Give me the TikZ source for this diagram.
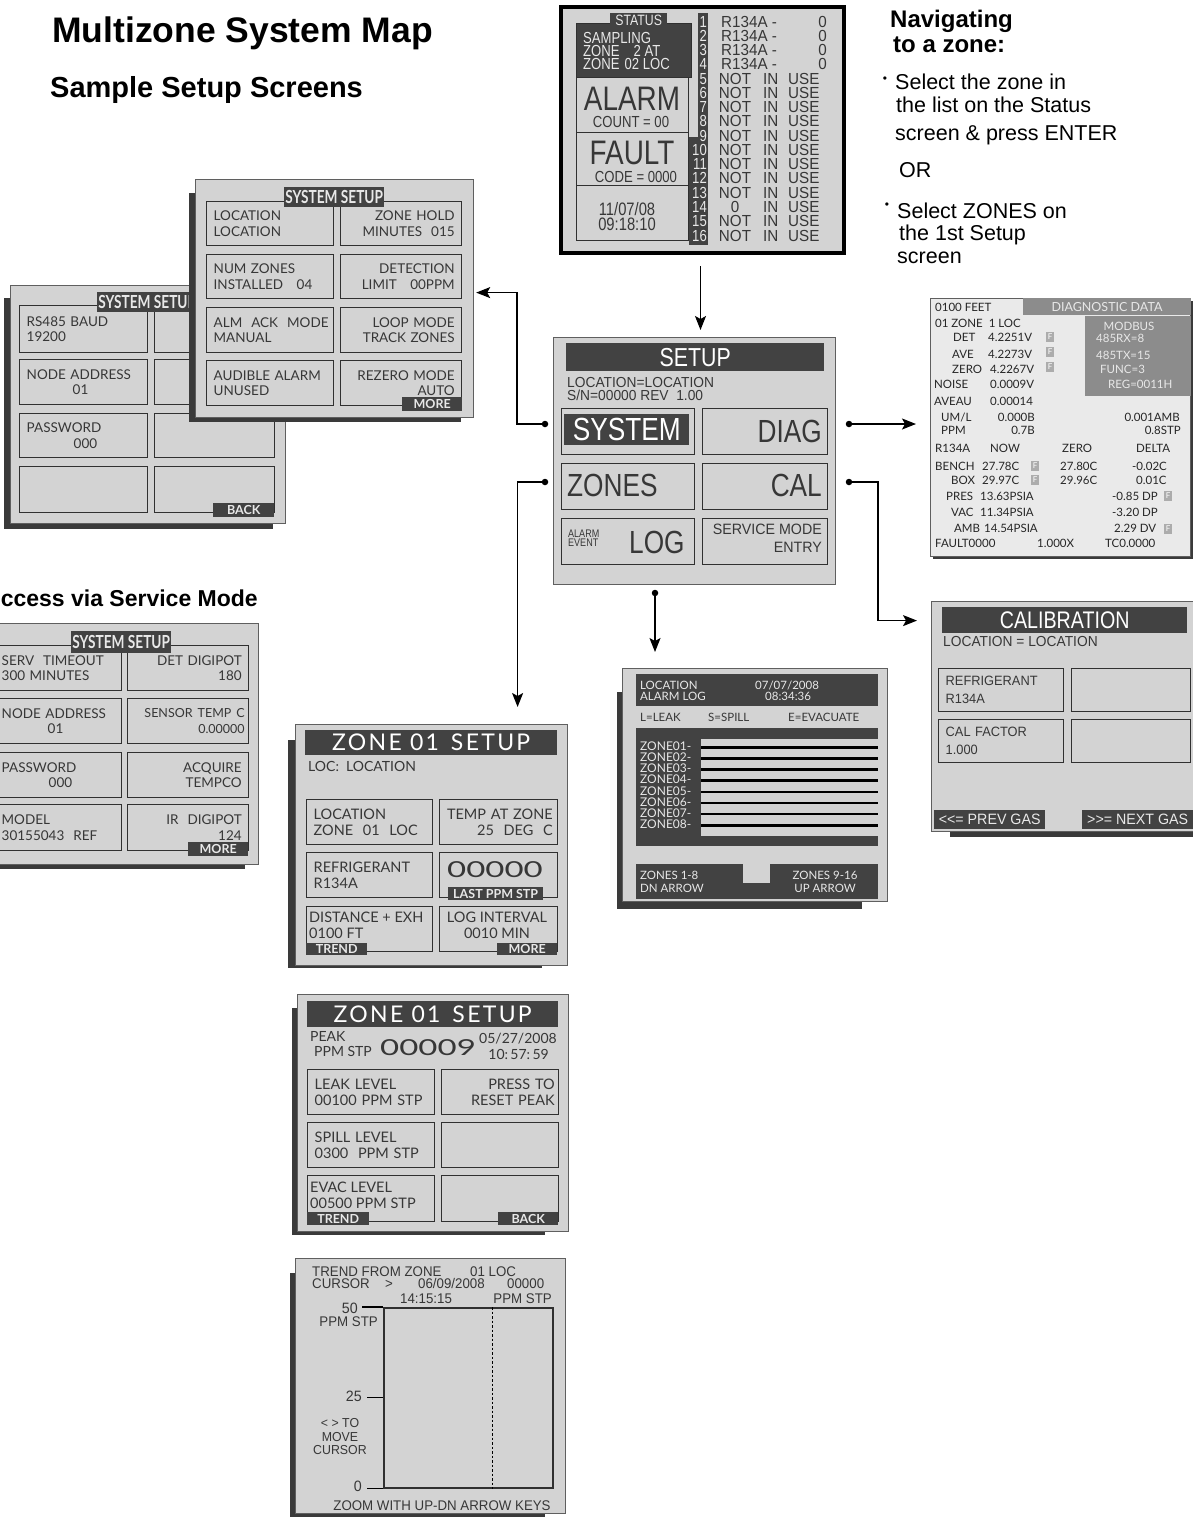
\documentclass[tikz,border=0pt]{standalone}
\usepackage{fontspec}
\setmainfont{Liberation Sans}
\newfontfamily\gill{Lato}
\newfontfamily\gillw[LetterSpace=10]{Lato}
\newfontfamily\gillx[FakeStretch=1.5]{Lato}
\newfontfamily\gillc[FakeStretch=0.76]{Lato}
\newfontfamily\din[FakeStretch=0.82]{Liberation Sans}
\newfontfamily\dinw[FakeStretch=0.95]{Liberation Sans}
\usetikzlibrary{arrows.meta,positioning}
\newcommand{\fsz}[2]{\fontsize{#1}{#2}\selectfont}

\definecolor{scrfill}{RGB}{211,211,211}
\definecolor{diagfill}{RGB}{234,234,234}
\definecolor{bardark}{RGB}{66,66,66}
\definecolor{shadowc}{RGB}{58,58,58}
\definecolor{scrline}{RGB}{95,95,95}
\definecolor{btnline}{RGB}{48,48,48}
\definecolor{txt}{RGB}{55,55,55}
\definecolor{modgray}{RGB}{140,140,140}
\definecolor{lighttxt}{RGB}{232,232,232}

\begin{document}
\begin{tikzpicture}[
  x=1pt, y=-1pt, >={Stealth[length=14pt,width=11pt,inset=3pt]},
  scr/.style 2 args={draw=scrline, line width=1.2pt, fill=scrfill, anchor=north west, inner sep=0pt, minimum width=#1, minimum height=#2},
  shd/.style 2 args={fill=shadowc, anchor=north west, inner sep=0pt, minimum width=#1, minimum height=#2},
  bx/.style 2 args={draw=btnline, line width=1.4pt, anchor=north west, inner xsep=7pt, inner ysep=0pt, text width=#1, minimum height=#2, align=left, text=txt, font=\gill\fsz{13.5}{15.5}},
  sbox/.style 2 args={draw=btnline, line width=1.4pt, anchor=north west, inner sep=0pt, minimum width=#1, minimum height=#2},
  dbar/.style 2 args={fill=bardark, text=white, anchor=north west, inner sep=0pt, minimum width=#1, minimum height=#2},
  dtab/.style 2 args={dbar={#1}{#2}, text=lighttxt, font=\gill\bfseries\fsz{12.5}{12.5}},
  ttab/.style={dbar={100pt}{20pt}, text=lighttxt, font=\gillc\bfseries\fsz{18}{18}},
  jdot/.style={circle, fill=black, inner sep=0pt, minimum size=6.5pt},
  conn/.style={->, line width=1.3pt},
  ttl/.style={inner sep=0pt, anchor=base west},
  nav/.style={inner sep=0pt, anchor=base west, font=\fsz{21.5}{21.5}},
  bul/.style={inner sep=0pt, font=\fsz{12}{12}},
  stl/.style={inner sep=0pt, anchor=base west, text=lighttxt, font=\din\fsz{16}{16}},
  stt/.style={inner sep=0pt, text=txt, font=\dinw\fsz{16}{16}},
  snum/.style={inner sep=0pt, anchor=base east, text=lighttxt, font=\din\fsz{16}{16}},
  stx/.style={inner sep=0pt, anchor=base west, text=txt, font=\dinw\fsz{14.5}{14.5}},
  bigt/.style={inner sep=0pt, text=txt, font=\din\fsz{32}{32}},
  smt/.style={inner sep=0pt, anchor=base west, text=txt, font=\din\fsz{11}{11}},
  dtx/.style={inner sep=0pt, text=black!85, font=\gill\fsz{11.5}{11.5}},
  fbox/.style={fill=gray!65, text=white, inner sep=0pt, minimum width=8pt, minimum height=10pt, font=\gill\fsz{8}{8}},
  ltx/.style={inner sep=0pt, anchor=base west, text=txt, font=\gill\fsz{11.5}{11.5}},
  ztx/.style={inner sep=0pt, anchor=base west, text=txt, font=\gill\fsz{14}{14}},
  ttx/.style={inner sep=0pt, anchor=base west, text=txt, font=\dinw\fsz{14}{14}},
]
\useasboundingbox (0,0) rectangle (1193,1518);

% ---------------- headings ----------------
\node[ttl, font=\bfseries\fsz{35.5}{35.5}] (title) at (52,42) {Multizone System Map};
\node[ttl, font=\bfseries\fsz{29}{29}] (subtitle) at (50,97) {Sample Setup Screens};
\node[ttl, anchor=base east, font=\bfseries\fsz{23}{23}] (servtitle) at (258,606) {Access via Service Mode};

% ---------------- navigating ----------------
\node[ttl, font=\bfseries\fsz{24}{24}] (nav1) at (890,27) {Navigating};
\node[ttl, font=\bfseries\fsz{24}{24}] (nav2) at (893,52) {to a zone:};
\node[bul] (b1) at (885,80) {\textbullet};
\node[nav] (n1) at (895,89) {Select the zone in};
\node[nav] (n2) at (896,112) {the list on the Status};
\node[nav] (n3) at (895,140) {screen \& press ENTER};
\node[nav] (n4) at (899,177) {OR};
\node[bul] (b2) at (887,206) {\textbullet};
\node[nav] (n5) at (897,218) {Select ZONES on};
\node[nav] (n6) at (899,240) {the 1st Setup};
\node[nav] (n7) at (897,263) {screen};

% ---------------- status ----------------
\node[scr={283pt}{246pt}, draw=black, line width=4pt] (status) at (559,5) {};
\node[dbar={115pt}{54pt}, draw=btnline, line width=1.4pt] (samp) at (576,23) {};
\node[sbox={112pt}{55pt}] (alarm) at (576,77) {};
\node[sbox={112pt}{53pt}] (fault) at (576,132) {};
\node[sbox={112pt}{55pt}] (clock) at (576,185) {};
\node[dbar={57pt}{14pt}, text=lighttxt, font=\din\fsz{15}{15}] (sttab) at (610,13) {STATUS};
\node[dbar={10pt}{232pt}] (nbar) at (698,13) {};
\node[dbar={19pt}{108pt}] (nbar2) at (689,137) {};
\node[stl] (samp1) at (583,43) {SAMPLING};
\node[stl] (samp2) at (583,56) {ZONE\hspace{14pt}2 AT};
\node[stl] (samp3) at (583,69) {ZONE\hspace{5pt}02 LOC};
\node[bigt, anchor=base, font=\din\fsz{34}{34}] (alarmt) at (632,110) {ALARM};
\node[stt, anchor=base, font=\din\fsz{16}{16}] (countt) at (631,127) {COUNT = 00};
\node[bigt, anchor=base, font=\din\fsz{34}{34}] (faultt) at (632,164) {FAULT};
\node[stt, anchor=base, font=\din\fsz{16}{16}] (codet) at (636,182) {CODE = 0000};
\node[stt, anchor=base, font=\din\fsz{18}{18}] (datet) at (627,215) {11/07/08};
\node[stt, anchor=base, font=\din\fsz{18}{18}] (timet) at (627,230) {09:18:10};
\foreach \i in {1,...,16}
  \node[snum] (sn\i) at (707,{27+14.27*(\i-1)}) {\i};
\foreach \i in {1,...,4} {
  \node[stt, anchor=base west] (ra\i) at (721,{27+14.27*(\i-1)}) {R134A -};
  \node[stt, anchor=base east] (rb\i) at (827,{27+14.27*(\i-1)}) {0};
}
\foreach \i/\w in {5/NOT,6/NOT,7/NOT,8/NOT,9/NOT,10/NOT,11/NOT,12/NOT,13/NOT,14/0,15/NOT,16/NOT} {
  \node[stt, anchor=base] (ra\i) at (735,{27+14.27*(\i-1)}) {\w};
  \node[stt, anchor=base west] (rb\i) at (763,{27+14.27*(\i-1)}) {IN};
  \node[stt, anchor=base west] (rc\i) at (788,{27+14.27*(\i-1)}) {USE};
}

% ---------------- setup ----------------
\node[scr={282pt}{247pt}] (setup) at (553,337) {};
\node[dbar={258pt}{28pt}, font=\din\fsz{26}{26}] (sethead) at (566,343) {SETUP};
\node[stx] (setloc) at (567,387) {LOCATION=LOCATION};
\node[stx] (setsn) at (567,400) {S/N=00000 REV\ \ 1.00};
\node[sbox={133pt}{46pt}] (bsys) at (561,408) {};
\node[dbar={125pt}{31pt}, font=\din\fsz{32}{32}] (bsysin) at (564,414) {SYSTEM};
\node[sbox={125pt}{46pt}] (bdiag) at (702,408) {};
\node[bigt, anchor=base east] (tdiag) at (822,442) {DIAG};
\node[sbox={133pt}{46pt}] (bzon) at (561,463) {};
\node[bigt, anchor=base west] (tzon) at (567,496) {ZONES};
\node[sbox={125pt}{46pt}] (bcal) at (702,463) {};
\node[bigt, anchor=base east] (tcal) at (822,496) {CAL};
\node[sbox={133pt}{46pt}] (blog) at (561,518) {};
\node[smt] (tal) at (568,537) {ALARM};
\node[smt] (tev) at (568,546) {EVENT};
\node[bigt, anchor=base west] (tlog) at (629,553) {LOG};
\node[sbox={125pt}{46pt}] (bserv) at (702,518) {};
\node[stx, anchor=base east, font=\dinw\fsz{15}{15}] (tserv1) at (822,534) {SERVICE MODE};
\node[stx, anchor=base east, font=\dinw\fsz{15}{15}] (tserv2) at (822,552) {ENTRY};
\node[jdot] (dsys) at (545,424) {};
\node[jdot] (dzon) at (545,482) {};
\node[jdot] (ddiag) at (849,424) {};
\node[jdot] (dcal) at (849,482) {};
\node[jdot] (dlog) at (655,593) {};

% ---------------- diagnostic ----------------
\node[shd={260pt}{258pt}] (diagshd) at (933,301) {};
\node[scr={260pt}{258pt}, fill=diagfill] (diag) at (930,298) {};
\node[dbar={168pt}{17pt}, fill=modgray, text=lighttxt, font=\gill\fsz{12.5}{12.5}, anchor=north east] (dhead) at (diag.north east) {DIAGNOSTIC DATA};
\node[dbar={106pt}{80pt}, fill=modgray, anchor=north east] (dmod) at (dhead.south east) {};
\foreach \x/\y/\t [count=\i] in {935/311/0100 FEET, 935/327/01 ZONE\ \ 1 LOC,
    953/341/DET, 988/341/4.2251V, 952/358/AVE, 988/358/4.2273V, 952/373/ZERO, 990/373/4.2267V,
    934/388/NOISE, 990/388/0.0009V, 934/405/AVEAU, 990/405/0.00014, 941/421/{UM/L}, 941/434/PPM,
    935/452/R134A, 990/452/NOW, 1062/452/ZERO, 1136/452/DELTA,
    935/470/BENCH, 982/470/27.78C, 1060/470/27.80C, 1132/470/-0.02C,
    951/484/BOX, 982/484/29.97C, 1060/484/29.96C, 1136/484/0.01C,
    946/500/PRES, 980/500/13.63PSIA, 1112/500/-0.85 DP,
    951/516/VAC, 980/516/11.34PSIA, 1112/516/-3.20 DP,
    954/532/AMB, 984/532/14.54PSIA, 1114/532/2.29 DV,
    935/547/FAULT0000, 1037/547/1.000X, 1105/547/TC0.0000}
  \node[dtx, anchor=base west] (dl\i) at (\x,\y) {\t};
\foreach \x/\y/\t [count=\i] in {1035/421/0.000B, 1180/421/0.001AMB, 1035/434/0.7B, 1181/434/0.8STP}
  \node[dtx, anchor=base east] (dr\i) at (\x,\y) {\t};
\node[dtx, anchor=base, text=lighttxt] (dmb) at (1129,330) {MODBUS};
\foreach \x/\y/\t [count=\i] in {1096/342/485RX=8, 1096/359/485TX=15, 1100/373/FUNC=3, 1108/388/REG=0011H}
  \node[dtx, anchor=base west, text=lighttxt] (dm\i) at (\x,\y) {\t};
\foreach \x/\y [count=\i] in {1050/337, 1050/352, 1050/367, 1035/466, 1035/480, 1168/496, 1168/529}
  \node[fbox] (f\i) at (\x,\y) {F};

% ---------------- calibration ----------------
\node[shd={250pt}{225pt}] (calshd) at (950,612) {};
\node[scr={266pt}{230pt}] (calib) at (931,601) {};
\node[dbar={245pt}{26pt}, font=\din\fsz{24}{24}] (calhead) at (942,607) {CALIBRATION};
\node[stx] (calloc) at (943,646) {LOCATION = LOCATION};
\node[bx={111pt}{43pt}, font=\dinw\fsz{13.5}{18}] (cref) at (938,668) {REFRIGERANT\\R134A};
\node[bx={105pt}{43pt}] (cemp1) at (1071,668) {};
\node[bx={111pt}{43pt}, font=\dinw\fsz{13.5}{18}] (cfac) at (938,719) {CAL FACTOR\\1.000};
\node[bx={105pt}{43pt}] (cemp2) at (1071,719) {};
\node[dbar={111pt}{19pt}, text=lighttxt, font=\dinw\fsz{15}{15}] (cprev) at (934,810) {<<= PREV GAS};
\node[dbar={111pt}{19pt}, text=lighttxt, font=\dinw\fsz{15}{15}] (cnext) at (1082,810) {>>= NEXT GAS};

% ---------------- alarm log ----------------
\node[shd={245pt}{217pt}] (alogshd) at (617,692) {};
\node[scr={265pt}{233pt}] (alog) at (622,668) {};
\node[dbar={242pt}{32pt}] (ahead) at (636,674) {};
\node[ltx, text=lighttxt] (ah1) at (640,689) {LOCATION};
\node[ltx, text=lighttxt] (ah2) at (640,700) {ALARM LOG};
\node[ltx, text=lighttxt] (ah3) at (755,689) {07/07/2008};
\node[ltx, text=lighttxt] (ah4) at (765,700) {08:34:36};
\node[ltx] (aleak) at (640,721) {L=LEAK};
\node[ltx] (aspill) at (708,721) {S=SPILL};
\node[ltx] (aevac) at (788,721) {E=EVACUATE};
\node[dbar={242pt}{118pt}] (apanel) at (636,728) {};
\node[dbar={177pt}{97pt}, fill=scrfill] (alines) at (701,739) {};
\foreach \i in {1,...,8} {
  \draw[line width=2.6pt] (701,{747.3+11.14*(\i-1)}) -- (878,{747.3+11.14*(\i-1)});
  \node[ltx, text=lighttxt, font=\gill\fsz{12}{12}] (az\i) at (640,{750.5+11.14*(\i-1)}) {ZONE0\i-};
}
\node[dbar={242pt}{35pt}] (abot) at (636,864) {};
\node[dbar={27pt}{19pt}, fill=scrfill] (anotch) at (743,864) {};
\node[ltx, text=lighttxt] (ab1) at (640,879) {ZONES 1-8};
\node[ltx, text=lighttxt] (ab2) at (640,892) {DN ARROW};
\node[ltx, anchor=base, text=lighttxt] (ab3) at (825,879) {ZONES 9-16};
\node[ltx, anchor=base, text=lighttxt] (ab4) at (825,892) {UP ARROW};

% ---------------- zone 01 setup ----------------
\node[shd={254pt}{228pt}] (z1shd) at (288,740) {};
\node[scr={272pt}{241pt}] (zone1) at (295,724) {};
\node[dbar={252pt}{25pt}, font=\gillw\fsz{23}{23}] (z1head) at (305,730) {ZONE 01\hspace{12pt}SETUP};
\node[ztx] (z1loc) at (308,771) {LOC:\ \ LOCATION};
\node[bx={112pt}{45pt}, font=\gill\fsz{14.5}{15.5}] (z1a) at (306,799) {LOCATION\\ZONE\ \ 01\ \ LOC};
\node[bx={104pt}{45pt}, align=right, font=\gill\fsz{14.5}{15.5}, inner xsep=5pt, text width=108pt] (z1b) at (439,799) {TEMP AT ZONE\\25\ \ DEG\ \ C};
\node[bx={112pt}{45pt}, font=\gill\fsz{14.5}{15.5}] (z1c) at (306,852) {REFRIGERANT\\R134A};
\node[bx={104pt}{45pt}] (z1d) at (439,852) {};
\node[ztx, anchor=base, font=\gillx\fsz{22}{22}] (z1ppm) at (495,877) {00000};
\node[dtab={95pt}{13pt}] (z1last) at (448,887) {LAST PPM STP};
\node[bx={112pt}{45pt}] (z1e) at (306,906) {};
\node[ztx, font=\gill\fsz{14.5}{14.5}] (z1e1) at (309,922) {DISTANCE + EXH};
\node[ztx, font=\gill\fsz{14.5}{14.5}] (z1e2) at (309,938) {0100 FT};
\node[dtab={61pt}{12pt}] (z1trend) at (306,943) {TREND};
\node[bx={104pt}{45pt}] (z1f) at (439,906) {};
\node[ztx, anchor=base, font=\gill\fsz{14.5}{14.5}] (z1f1) at (497,922) {LOG INTERVAL};
\node[ztx, anchor=base, font=\gill\fsz{14.5}{14.5}] (z1f2) at (497,938) {0010 MIN};
\node[dtab={60pt}{12pt}] (z1more) at (497,943) {MORE};

% ---------------- zone 01 setup, page 2 ----------------
\node[shd={253pt}{227pt}] (z2shd) at (292,1008) {};
\node[scr={271pt}{237pt}] (zone2) at (297,994) {};
\node[dbar={251pt}{26pt}, font=\gillw\fsz{23}{23}] (z2head) at (307,1001) {ZONE 01\hspace{12pt}SETUP};
\node[ztx] (z2pk) at (310,1041) {PEAK};
\node[ztx] (z2pp) at (314,1056) {PPM STP};
\node[ztx, font=\gillx\fsz{22}{22}] (z2val) at (380,1055) {00009};
\node[ztx, anchor=base east] (z2date) at (557,1043) {05/27/2008};
\node[ztx, anchor=base east] (z2time) at (549,1059) {10:\,57:\,59};
\node[bx={113pt}{45pt}, font=\gill\fsz{14.5}{15.5}] (z2a) at (307,1069) {LEAK LEVEL\\00100 PPM STP};
\node[bx={103pt}{45pt}, align=right, font=\gill\fsz{14.5}{15.5}, inner xsep=4pt, text width=109pt] (z2b) at (441,1069) {PRESS TO\\RESET PEAK};
\node[bx={113pt}{45pt}, font=\gill\fsz{14.5}{15.5}] (z2c) at (307,1122) {SPILL LEVEL\\0300\ \ PPM STP};
\node[bx={103pt}{45pt}] (z2d) at (441,1122) {};
\node[bx={113pt}{46pt}] (z2e) at (307,1175) {};
\node[ztx, font=\gill\fsz{14.5}{14.5}] (z2e1) at (310,1192) {EVAC LEVEL};
\node[ztx, font=\gill\fsz{14.5}{14.5}] (z2e2) at (310,1208) {00500 PPM STP};
\node[dtab={62pt}{13pt}] (z2trend) at (307,1212) {TREND};
\node[bx={103pt}{46pt}] (z2f) at (441,1175) {};
\node[dtab={60pt}{13pt}] (z2back) at (498,1212) {BACK};

% ---------------- trend ----------------
\node[shd={255pt}{244pt}] (trshd) at (290,1273) {};
\node[scr={270pt}{255pt}] (trend) at (295,1258) {};
\node[ttx] (tr1) at (312,1276) {TREND FROM ZONE};
\node[ttx] (tr2) at (470,1276) {01 LOC};
\node[ttx] (tr3) at (312,1288) {CURSOR};
\node[ttx] (tr4) at (385,1288) {>};
\node[ttx] (tr5) at (418,1288) {06/09/2008};
\node[ttx] (tr6) at (507,1288) {00000};
\node[ttx] (tr7) at (400,1303) {14:15:15};
\node[ttx, anchor=base east] (tr8) at (552,1303) {PPM STP};
\node[sbox={169pt}{180pt}, line width=1.5pt] (tgraph) at (383,1307) {};
\draw[line width=1.3pt] ([xshift=-21pt]tgraph.north west) -- (tgraph.north west);
\draw[line width=1.3pt] ([xshift=-16pt]tgraph.west) -- (tgraph.west);
\draw[line width=1.3pt] ([xshift=-16pt]tgraph.south west) -- (tgraph.south west);
\draw[line width=1pt, dash pattern=on 2.5pt off 2pt] ([xshift=24.5pt]tgraph.north) -- ([xshift=24.5pt]tgraph.south);
\node[ttx, anchor=base east, font=\dinw\fsz{15}{15}] (t50) at (358,1313) {50};
\node[ttx, anchor=base east] (tppm) at (378,1326) {PPM STP};
\node[ttx, anchor=base east, font=\dinw\fsz{15}{15}] (t25) at (362,1401) {25};
\node[ttx, anchor=base east, font=\dinw\fsz{15}{15}] (t0) at (362,1491) {0};
\node[ttx, anchor=base, font=\dinw\fsz{13}{13}] (tm1) at (340,1427) {< > TO};
\node[ttx, anchor=base, font=\dinw\fsz{13}{13}] (tm2) at (340,1441) {MOVE};
\node[ttx, anchor=base, font=\dinw\fsz{13}{13}] (tm3) at (340,1454) {CURSOR};
\node[ttx, anchor=base] (tzoom) at (442,1510) {ZOOM WITH UP-DN ARROW KEYS};

% ---------------- system setup (service mode) ----------------
\node[shd={255pt}{233pt}] (servshd) at (-10,636) {};
\node[scr={266pt}{241pt}] (serv) at (-8,623) {};
\node[bx={113pt}{45pt}] (sv1) at (-6,645) {SERV\ \ TIMEOUT\\300 MINUTES};
\node[bx={107pt}{45pt}, align=right] (sv2) at (127,645) {DET DIGIPOT\\180};
\node[bx={113pt}{45pt}] (sv3) at (-6,698) {NODE ADDRESS\\\hspace*{46pt}01};
\node[bx={113pt}{45pt}, align=right, inner xsep=4pt, font=\gill\fsz{12.5}{15.5}] (sv4) at (127,698) {SENSOR\hspace{5pt}TEMP\hspace{5pt}C\\0.00000};
\node[bx={113pt}{45pt}] (sv5) at (-6,752) {PASSWORD\\\hspace*{47pt}000};
\node[bx={107pt}{45pt}, align=right] (sv6) at (127,752) {ACQUIRE\\TEMPCO};
\node[bx={113pt}{46pt}] (sv7) at (-6,804) {MODEL\\30155043\ \ REF};
\node[bx={107pt}{46pt}, align=right] (sv8) at (127,804) {IR\ \ DIGIPOT\\124};
\node[ttab, minimum height=22pt] (servtab) at (71,631) {SYSTEM SETUP};
\node[dtab={60pt}{14pt}] (servmore) at (188,842) {MORE};

% ---------------- system setup (back) ----------------
\node[shd={269pt}{231pt}] (backshd) at (4,298) {};
\node[scr={275pt}{238pt}] (sysback) at (10,285) {};
\node[bx={114pt}{47pt}] (bk1) at (19,305) {RS485 BAUD\\19200};
\node[bx={106pt}{47pt}] (bk2) at (154,305) {};
\node[bx={114pt}{45pt}] (bk3) at (19,359) {NODE ADDRESS\\\hspace*{46pt}01};
\node[bx={106pt}{45pt}] (bk4) at (154,359) {};
\node[bx={114pt}{44pt}] (bk5) at (19,413) {PASSWORD\\\hspace*{47pt}000};
\node[bx={106pt}{44pt}] (bk6) at (154,413) {};
\node[bx={114pt}{46pt}] (bk7) at (19,466) {};
\node[bx={106pt}{46pt}] (bk8) at (154,466) {};
\node[ttab] (backtab) at (97,292) {SYSTEM SETUP};
\node[dtab={61pt}{14pt}] (backbk) at (213,503) {BACK};

% ---------------- system setup (front) ----------------
\node[shd={272pt}{229pt}] (frontshd) at (189,193) {};
\node[scr={278pt}{238pt}] (sysfront) at (195,179) {};
\node[bx={113pt}{44pt}] (fr1) at (206,201) {LOCATION\\LOCATION};
\node[bx={107pt}{44pt}, align=right] (fr2) at (340,201) {ZONE HOLD\\MINUTES\ \ 015};
\node[bx={113pt}{44pt}] (fr3) at (206,254) {NUM ZONES\\INSTALLED\ \ \ 04};
\node[bx={107pt}{44pt}, align=right] (fr4) at (340,254) {DETECTION\\LIMIT\ \ \ 00PPM};
\node[bx={119pt}{45pt}, inner xsep=4pt] (fr5) at (206,307) {\hspace*{3pt}ALM\ \ ACK\ \ MODE\\\hspace*{3pt}MANUAL};
\node[bx={107pt}{45pt}, align=right] (fr6) at (340,307) {LOOP MODE\\TRACK ZONES};
\node[bx={113pt}{45pt}] (fr7) at (206,360) {AUDIBLE ALARM\\UNUSED};
\node[bx={107pt}{45pt}, align=right] (fr8) at (340,360) {REZERO MODE\\AUTO};
\node[ttab] (fronttab) at (284,187) {SYSTEM SETUP};
\node[dtab={60pt}{14pt}] (frontmore) at (402,397) {MORE};

% ---------------- connectors ----------------
\draw[conn, shorten <=11pt, shorten >=7pt] ([xshift=-2pt]status.south) -- ([xshift=-2pt]status.south |- setup.north);
\draw[conn, shorten >=2pt] (dsys) -- ++(-28,0) |- ([yshift=6pt]sysfront.east);
\draw[conn, shorten >=17pt] (dzon) -| ([xshift=86pt]zone1.north);
\draw[conn, shorten >=14pt] (ddiag) -- (diag.west |- ddiag);
\draw[conn, shorten >=14pt] (dcal) -- ++(29,0) |- ([yshift=96pt]calib.west);
\draw[conn, shorten >=16pt] (dlog) -- (dlog |- alog.north);
\end{tikzpicture}
\end{document}
